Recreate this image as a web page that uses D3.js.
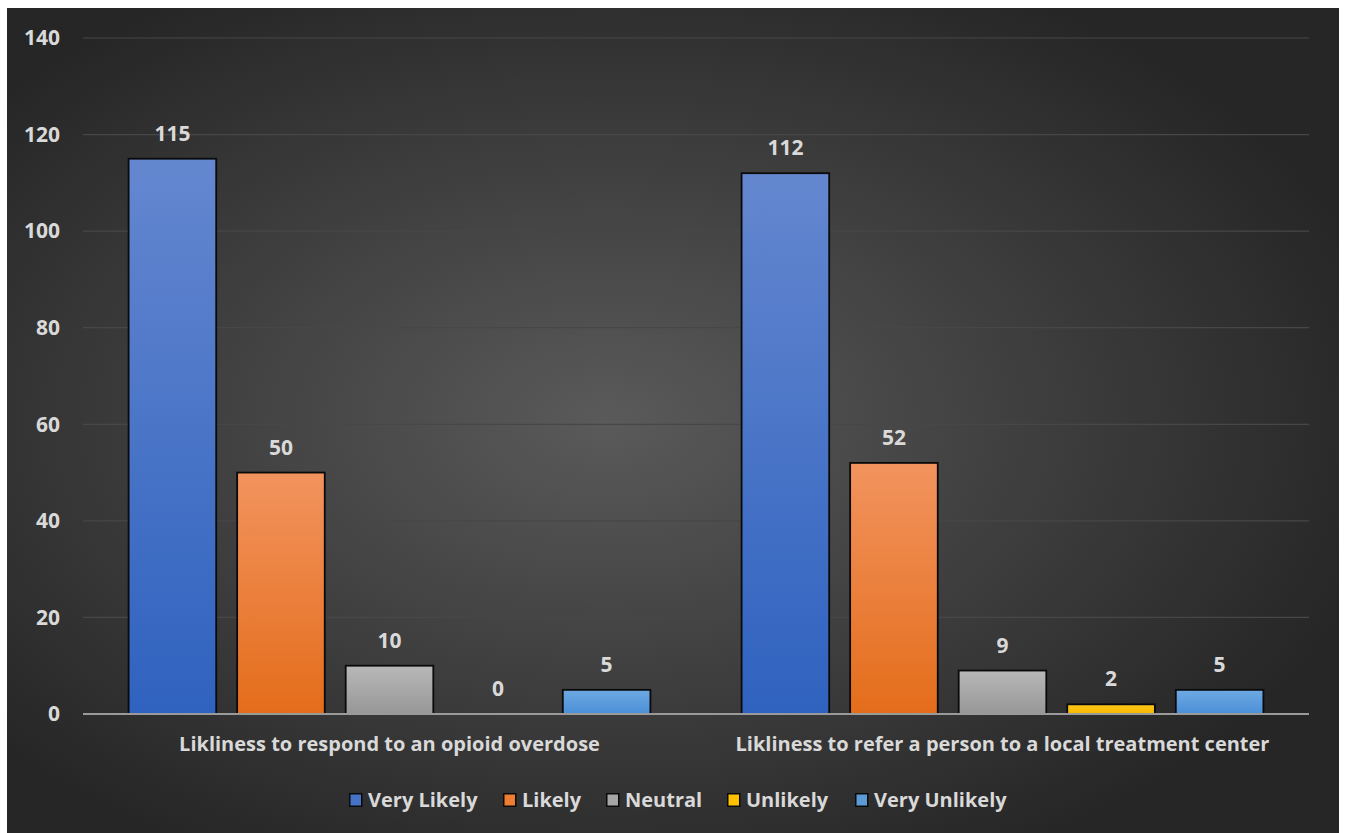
<!DOCTYPE html>
<html>
<head>
<meta charset="utf-8">
<script src="https://cdn.jsdelivr.net/npm/d3@7"></script>
<style>
  html, body { margin: 0; padding: 0; background: #ffffff; }
  svg { display: block; }
  text { font-family: "Open Sans", Lato, sans-serif; font-weight: 700; fill: #d9d9d9; }
</style>
</head>
<body>
<svg id="chart" width="1346" height="833"></svg>
<script>
// Survey responses per question
const categories = [
  "Likliness to respond to an opioid overdose",
  "Likliness to refer a person to a local treatment center"
];
const seriesNames = ["Very Likely", "Likely", "Neutral", "Unlikely", "Very Unlikely"];
const veryLikely = [115, 112];
const likely = [50, 52];
const neutral = [10, 9];
const unlikely = [0, 2];
const veryUnlikely = [5, 5];
const yTicks = [0, 20, 40, 60, 80, 100, 120, 140];

const seriesValues = [veryLikely, likely, neutral, unlikely, veryUnlikely];
const seriesColors = [
  { top: "#6487cf", bottom: "#2f62bf", swatch: "#4472c4" },
  { top: "#f2935e", bottom: "#e46d1b", swatch: "#ed7d31" },
  { top: "#b8b8b8", bottom: "#979797", swatch: "#a5a5a5" },
  { top: "#ffc71a", bottom: "#f5b800", swatch: "#ffc000" },
  { top: "#6eaae3", bottom: "#4a8fd7", swatch: "#5b9bd5" }
];

const FONT = "'Open Sans', Lato, sans-serif";
const svg = d3.select("#chart");
const W = 1346, H = 833;
const margin = { left: 83, right: 37, top: 38, bottom: 119 };

const defs = svg.append("defs");
const bg = defs.append("radialGradient").attr("id", "bgGrad")
  .attr("cx", "45%").attr("cy", "50%").attr("r", "60%");
bg.append("stop").attr("offset", "0%").attr("stop-color", "#5a5a5a");
bg.append("stop").attr("offset", "100%").attr("stop-color", "#262626");

seriesColors.forEach((c, i) => {
  const g = defs.append("linearGradient").attr("id", "barGrad" + i)
    .attr("x1", 0).attr("y1", 0).attr("x2", 0).attr("y2", 1);
  g.append("stop").attr("offset", "0%").attr("stop-color", c.top);
  g.append("stop").attr("offset", "100%").attr("stop-color", c.bottom);
});

// Chart area background
svg.append("rect")
  .attr("x", 7).attr("y", 8).attr("width", 1332).attr("height", H - 8)
  .attr("fill", "url(#bgGrad)");

const x0 = d3.scaleBand()
  .domain(categories)
  .range([margin.left, W - margin.right])
  .paddingInner(0).paddingOuter(0);

const x1 = d3.scaleBand()
  .domain(seriesNames)
  .range([0, x0.bandwidth()])
  .paddingInner(0.193)
  .paddingOuter(0.42);

const y = d3.scaleLinear()
  .domain([0, 140])
  .range([H - margin.bottom, margin.top]);

// Gridlines
svg.append("g").selectAll("line")
  .data(yTicks.filter(t => t > 0))
  .join("line")
  .attr("x1", margin.left).attr("x2", W - margin.right)
  .attr("y1", d => y(d)).attr("y2", d => y(d))
  .attr("stroke", "#474747").attr("stroke-width", 1.2);

// Y axis labels
const yAxis = d3.axisLeft(y).tickValues(yTicks).tickSize(0).tickPadding(23);
const yg = svg.append("g")
  .attr("transform", `translate(${margin.left},0)`)
  .call(yAxis);
yg.select(".domain").remove();
yg.selectAll("text")
  .attr("font-size", 21)
  .attr("font-family", FONT)
  .attr("font-weight", 700)
  .attr("fill", "#d9d9d9");

// Bars
const groups = svg.append("g").selectAll("g")
  .data(categories)
  .join("g")
  .attr("transform", d => `translate(${x0(d)},0)`);

groups.each(function(cat, ci) {
  const g = d3.select(this);
  const rows = seriesNames.map((s, si) => ({ s, si, v: seriesValues[si][ci] }));
  g.selectAll("rect")
    .data(rows.filter(r => r.v > 0))
    .join("rect")
    .attr("x", r => x1(r.s))
    .attr("y", r => y(r.v))
    .attr("width", x1.bandwidth())
    .attr("height", r => y(0) - y(r.v))
    .attr("fill", r => `url(#barGrad${r.si})`)
    .attr("stroke", "#0a0a0a")
    .attr("stroke-width", 1.8);
  g.selectAll("text.val")
    .data(rows)
    .join("text")
    .attr("class", "val")
    .attr("x", r => x1(r.s) + x1.bandwidth() / 2)
    .attr("y", r => y(r.v) - 18)
    .attr("text-anchor", "middle")
    .attr("font-size", 21)
    .text(r => r.v);
});

// Baseline
svg.append("line")
  .attr("x1", margin.left).attr("x2", W - margin.right)
  .attr("y1", y(0)).attr("y2", y(0))
  .attr("stroke", "#9a9a9a").attr("stroke-width", 2);

// Category labels
const xAxis = d3.axisBottom(x0).tickSize(0).tickPadding(23);
const xg = svg.append("g")
  .attr("transform", `translate(0,${y(0)})`)
  .call(xAxis);
xg.select(".domain").remove();
xg.selectAll("text")
  .attr("font-size", 20)
  .attr("font-family", FONT)
  .attr("font-weight", 700)
  .attr("fill", "#d9d9d9");

// Legend
const legendX = [349, 503, 606, 727, 855];
const legend = svg.append("g").selectAll("g")
  .data(seriesNames)
  .join("g")
  .attr("transform", (d, i) => `translate(${legendX[i]},793)`);
legend.append("rect")
  .attr("x", 0.75).attr("y", 0.75)
  .attr("width", 12).attr("height", 12.5)
  .attr("fill", (d, i) => seriesColors[i].swatch)
  .attr("stroke", "#0a0a0a").attr("stroke-width", 1.5);
legend.append("text")
  .attr("x", 19).attr("y", 13.5)
  .attr("font-size", 20)
  .text(d => d);
</script>
</body>
</html>
